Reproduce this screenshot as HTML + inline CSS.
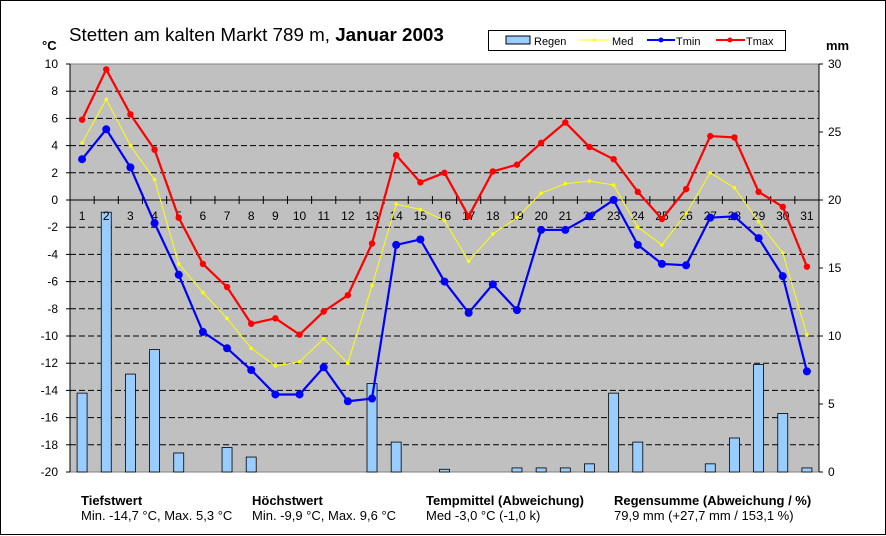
<!DOCTYPE html>
<html><head><meta charset="utf-8"><style>
body{margin:0;background:#fff;}
svg{display:block;font-family:"Liberation Sans",Arial,sans-serif;}
</style></head><body>
<svg id="c" width="886" height="536" viewBox="0 0 886 536" xmlns="http://www.w3.org/2000/svg">
<rect x="0.5" y="0.5" width="885" height="534" fill="#fff" stroke="#000"/>
<text x="69" y="41" font-size="18.8">Stetten am kalten Markt 789 m, <tspan font-weight="bold">Januar 2003</tspan></text>
<text x="42" y="50" font-size="13" font-weight="bold">°C</text>
<text x="826" y="50" font-size="13" font-weight="bold">mm</text>
<rect x="70" y="64" width="749" height="408" fill="#c0c0c0" stroke="#808080"/>
<g id="grid"></g><g id="bars"></g><g id="axes"></g><g id="lines"></g>
<g>
<rect x="488.5" y="30.5" width="297" height="20" fill="#fff" stroke="#000"/>
<g><rect x="506" y="36" width="24" height="8" fill="#99ccff" stroke="#000"/><text x="534" y="45" font-size="11">Regen</text></g>
<g><line x1="579" y1="40" x2="609" y2="40" stroke="#ffff00"/><circle cx="594" cy="40" r="1.5" fill="#ffff00"/><text x="612" y="45" font-size="11">Med</text></g>
<g><line x1="647" y1="40" x2="675" y2="40" stroke="#0000ff" stroke-width="2"/><circle cx="661" cy="40" r="2.5" fill="#0000ff"/><text x="676" y="45" font-size="11">Tmin</text></g>
<g><line x1="716" y1="40" x2="745" y2="40" stroke="#ff0000" stroke-width="2"/><circle cx="730" cy="40" r="2.5" fill="#ff0000"/><text x="746" y="45" font-size="11">Tmax</text></g>
</g>
<g font-size="13">
<text x="81" y="505" font-weight="bold">Tiefstwert</text>
<text x="81" y="520">Min. -14,7 °C, Max. 5,3 °C</text>
<text x="252" y="505" font-weight="bold">Höchstwert</text>
<text x="252" y="520">Min. -9,9 °C, Max. 9,6 °C</text>
<text x="426" y="505" font-weight="bold">Tempmittel (Abweichung)</text>
<text x="426" y="520">Med -3,0 °C (-1,0 k)</text>
<text x="614" y="505" font-weight="bold">Regensumme (Abweichung / %)</text>
<text x="614" y="520">79,9 mm (+27,7 mm / 153,1 %)</text>
</g>
</svg>
<script>
const days=[1,2,3,4,5,6,7,8,9,10,11,12,13,14,15,16,17,18,19,20,21,22,23,24,25,26,27,28,29,30,31];
const tmax=[5.9,9.6,6.3,3.7,-1.3,-4.7,-6.4,-9.1,-8.7,-9.9,-8.2,-7.0,-3.2,3.3,1.3,2.0,-1.2,2.1,2.6,4.2,5.7,3.9,3.0,0.6,-1.4,0.8,4.7,4.6,0.6,-0.5,-4.9];
const med=[4.2,7.4,4.0,1.5,-4.7,-6.8,-8.7,-10.9,-12.2,-11.9,-10.2,-12.0,-6.3,-0.3,-0.7,-1.5,-4.5,-2.5,-1.3,0.5,1.2,1.4,1.1,-2.0,-3.3,-1.0,2.0,0.9,-1.6,-3.9,-9.9];
const tmin=[3.0,5.2,2.4,-1.7,-5.5,-9.7,-10.9,-12.5,-14.3,-14.3,-12.3,-14.8,-14.6,-3.3,-2.9,-6.0,-8.3,-6.2,-8.1,-2.2,-2.2,-1.2,0.0,-3.3,-4.7,-4.8,-1.3,-1.2,-2.8,-5.6,-12.6];
const rain=[5.8,19.1,7.2,9.0,1.4,0,1.8,1.1,0,0,0,0,6.5,2.2,0,0.2,0,0,0.3,0.3,0.3,0.6,5.8,2.2,0,0,0.6,2.5,7.9,4.3,0.3];
const tTicks=[10,8,6,4,2,0,-2,-4,-6,-8,-10,-12,-14,-16,-18,-20];
const rTicks=[30,25,20,15,10,5,0];
const NS="http://www.w3.org/2000/svg";
const X0=70,W=749,Y0=64,H=408;
const xs=d=>X0+(d-0.5)*W/days.length;
const yT=v=>Y0+(10-v)/30*H;
const yR=v=>Y0+(30-v)/30*H;
function mk(tag,attrs,parent){const e=document.createElementNS(NS,tag);for(const k in attrs)e.setAttribute(k,attrs[k]);document.getElementById(parent).appendChild(e);return e;}
tTicks.forEach(t=>{
 const y=yT(t);
 if(t!==10&&t!==0&&t!==-20){const g=mk('line',{x1:X0,x2:X0+W,y1:y,y2:y,stroke:'#000','stroke-dasharray':'6,3'},'grid');
 
 }
 const tk=mk('line',{x1:X0-4,x2:X0,y1:y,y2:y,stroke:'#000'},'axes');
 
 
 const tx=mk('text',{x:X0-12,y:y+4,'font-size':12,'text-anchor':'end'},'axes');tx.textContent=t;
 
 
});
rTicks.forEach(t=>{
 const y=yR(t);
 const tk=mk('line',{x1:X0+W,x2:X0+W+4,y1:y,y2:y,stroke:'#000'},'axes');
 
 
 const tx=mk('text',{x:X0+W+9,y:y+4,'font-size':12},'axes');tx.textContent=t;
 
 
});
const ax=mk('line',{x1:X0,x2:X0+W,y1:yT(0),y2:yT(0),stroke:'#000'},'axes');


mk('line',{x1:X0,x2:X0,y1:Y0,y2:Y0+H,stroke:'#000'},'axes');
mk('line',{x1:X0+W,x2:X0+W,y1:Y0,y2:Y0+H,stroke:'#000'},'axes');
days.forEach((d,i)=>{
 const xb=X0+i*W/days.length;
 if(i>0){const tk=mk('line',{x1:xb,x2:xb,y1:yT(0)-4,y2:yT(0)+4,stroke:'#000'},'axes');
 
 }
 const tx=mk('text',{x:xs(d),y:yT(0)+20,'font-size':12,'text-anchor':'middle'},'axes');tx.textContent=d;
 
 
 if(rain[i]>0){
  const b=mk('rect',{x:xs(d)-5,y:yR(rain[i]),width:10,height:yR(0)-yR(rain[i]),fill:'#99ccff',stroke:'#000','stroke-width':0.8},'bars');
  
  
 }
});
function series(vals,color,sw,r,name){
 const pts=vals.map((v,i)=>xs(days[i])+','+yT(v)).join(' ');
 const l=mk('polyline',{points:pts,fill:'none',stroke:color,'stroke-width':sw},'lines');
 
 
 vals.forEach((v,i)=>{const c=mk('circle',{cx:xs(days[i]),cy:yT(v),r:r,fill:color},'lines');
 
 });
}
series(med,'#ffff00',1,1.8,'med');
series(tmin,'#0000ff',2.2,4,'tmin');
series(tmax,'#ff0000',2.2,3.2,'tmax');
</script>
</body></html>
